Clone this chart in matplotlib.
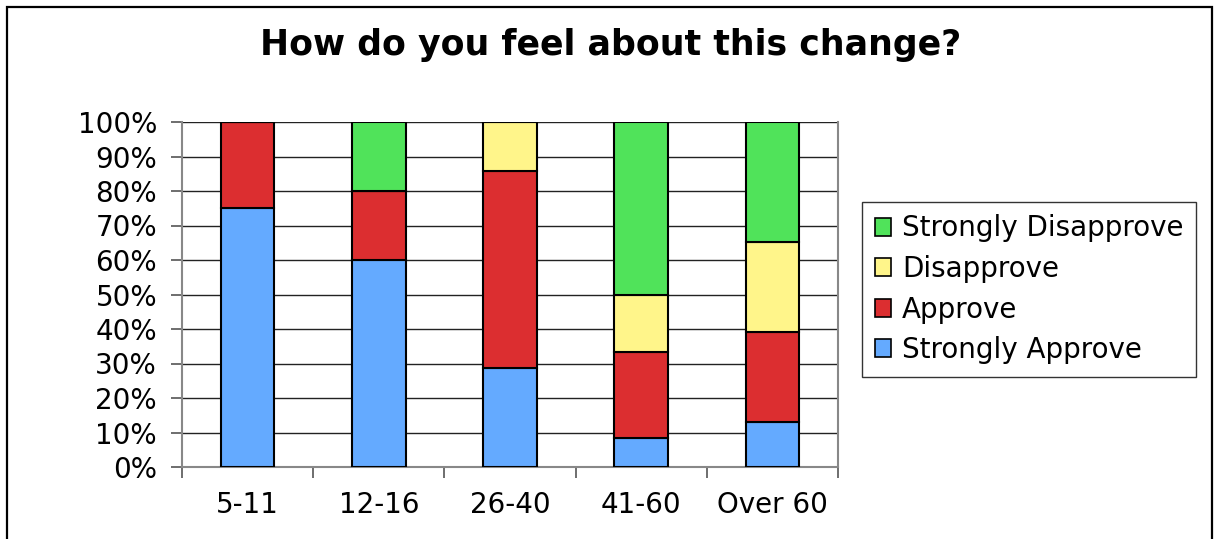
import matplotlib
matplotlib.use("Agg")
import matplotlib.pyplot as plt
from matplotlib.patches import Rectangle, Patch
import numpy as np

categories = ["5-11", "12-16", "26-40", "41-60", "Over 60"]
strongly_approve = [75.0, 60.0, 28.6, 8.3, 13.0]
approve = [25.0, 20.0, 57.1, 25.0, 26.1]
disapprove = [0.0, 0.0, 14.3, 16.7, 26.1]
strongly_disapprove = [0.0, 20.0, 0.0, 50.0, 34.8]
series_names = ["Strongly Approve", "Approve", "Disapprove", "Strongly Disapprove"]
colors = ["#64AAFF", "#DC2E30", "#FFF58A", "#50E35A"]
yticks = [0, 10, 20, 30, 40, 50, 60, 70, 80, 90, 100]
title = "How do you feel about this change?"

W, H = 1219, 539
fig = plt.figure(figsize=(W / 100, H / 100), dpi=100)
fig.patch.set_facecolor("white")
fig.add_artist(Rectangle((7 / W, -0.1), (1212 - 7) / W, 1.1 - 7 / H + 0.0,
                         transform=fig.transFigure, fill=False,
                         edgecolor="black", linewidth=1.6))

ax = fig.add_axes([182 / W, 1 - 467 / H, (838 - 182) / W, (467 - 122) / H])
x = np.arange(len(categories))
bottom = np.zeros(len(categories))
handles = []
for name, vals, col in zip(series_names,
                           [strongly_approve, approve, disapprove, strongly_disapprove],
                           colors):
    v = np.array(vals)
    ax.bar(x, v, 0.41, bottom=bottom, color=col, edgecolor="black",
           linewidth=1.5, zorder=3)
    bottom += v
    handles.append(Patch(facecolor=col, edgecolor="black", linewidth=1.2, label=name))

ax.set_xlim(-0.5, len(categories) - 0.5)
ax.set_ylim(0, 100)
ax.set_yticks(yticks)
ax.set_yticklabels([f"{t}%" for t in yticks])
ax.yaxis.grid(True, color="#222222", linewidth=1.0, zorder=0)
ax.set_axisbelow(True)

ax.set_xticks(np.arange(len(categories) + 1) - 0.5)
ax.set_xticklabels([])
ax.set_xticks(x, minor=True)
ax.set_xticklabels(categories, minor=True)
ax.tick_params(axis="x", which="minor", length=0, pad=17, labelsize=20)
ax.tick_params(axis="x", which="major", length=8, color="#555555", width=1.2, direction="out")
ax.tick_params(axis="y", length=8, color="#555555", width=1.2, direction="out",
               pad=10, labelsize=20)
for lab in ax.get_xticklabels(minor=True) + ax.get_yticklabels():
    lab.set_family("DejaVu Sans")

for s in ["left", "bottom", "right", "top"]:
    ax.spines[s].set_color("#888888")
    ax.spines[s].set_linewidth(1.5)
ax.spines["top"].set_visible(False)

fig.text(611 / W, 1 - 45 / H, title, ha="center", va="center",
         fontsize=25, fontweight="bold", family="DejaVu Sans")

leg = fig.legend(handles=handles[::-1], loc="upper left",
                 bbox_to_anchor=(862 / W, 1 - 202 / H),
                 frameon=True, fancybox=False, edgecolor="black",
                 prop={"family": "DejaVu Sans", "size": 20},
                 handlelength=0.6, handleheight=0.6, handletextpad=0.4,
                 labelspacing=0.45, borderpad=0.45, borderaxespad=0)
leg.get_frame().set_linewidth(1.0)

fig.savefig("out.png", dpi=100)
